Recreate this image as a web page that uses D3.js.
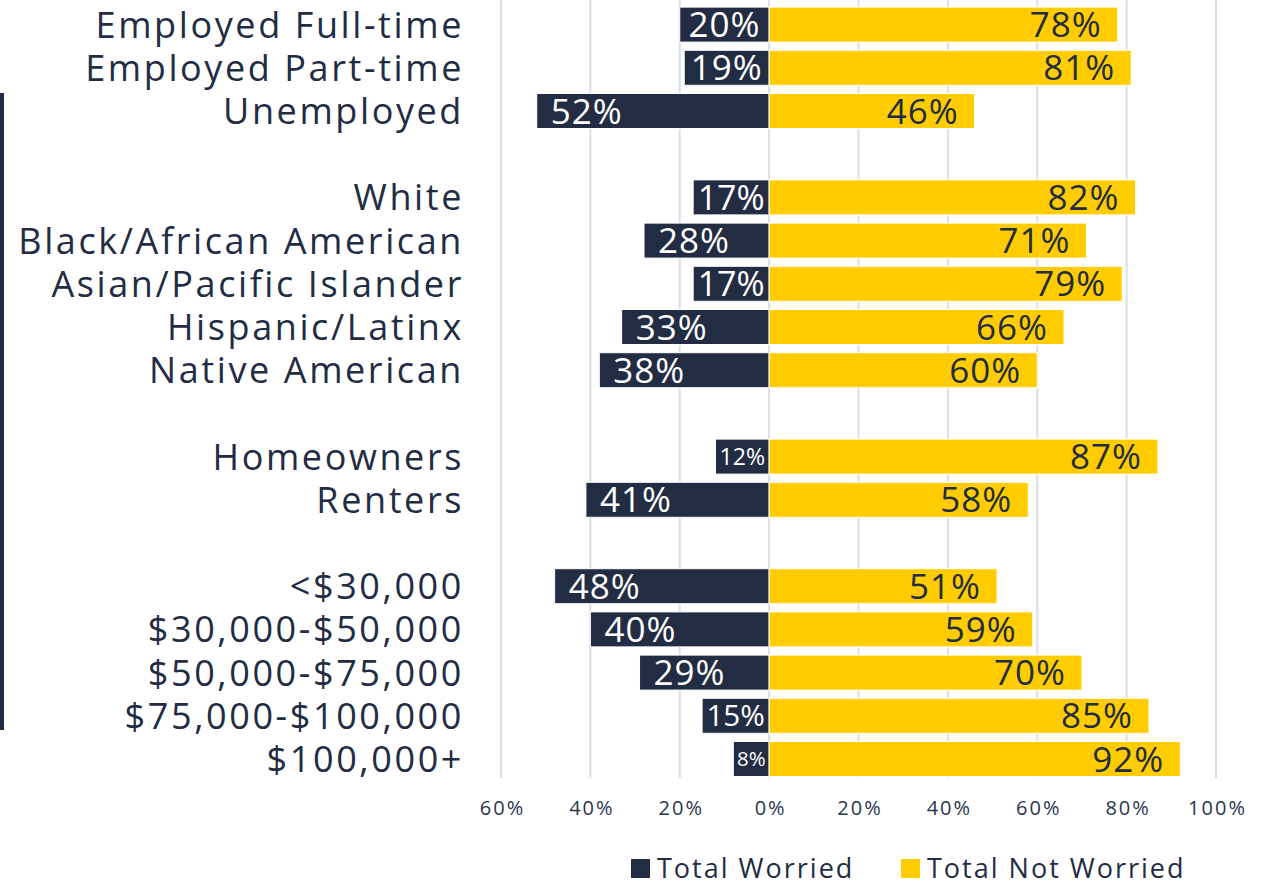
<!DOCTYPE html>
<html>
<head>
<meta charset="utf-8">
<script src="https://cdn.jsdelivr.net/npm/d3@7"></script>
<style>
  body { margin: 0; background: #fff; }
  svg { display: block; font-family: "Open Sans", "Noto Sans", sans-serif; }
</style>
</head>
<body>
<div id="canvas"></div>
<script>
// rows of the chart, split in groups (a blank row sits between groups)
const employment = ["Employed Full-time", "Employed Part-time", "Unemployed"];
const race = ["White", "Black/African American", "Asian/Pacific Islander", "Hispanic/Latinx", "Native American"];
const housing = ["Homeowners", "Renters"];
const income = ["<$30,000", "$30,000-$50,000", "$50,000-$75,000", "$75,000-$100,000", "$100,000+"];
const groups = [employment, race, housing, income];

const categories = [].concat(employment, race, housing, income);
const worried    = [20, 19, 52, 17, 28, 17, 33, 38, 12, 41, 48, 40, 29, 15, 8];
const notWorried = [78, 81, 46, 82, 71, 79, 66, 60, 87, 58, 51, 59, 70, 85, 92];

const tickValues = [-60, -40, -20, 0, 20, 40, 60, 80, 100];
const seriesNames = ["Total Worried", "Total Not Worried"];

const w = 1269;
const h = 884;
const dark = "#222c43";
const yellow = "#ffcc00";
const grid = "#d8deea";

// slots including the blank gaps
const slots = [];
groups.forEach(function(g, i){
  g.forEach(function(c){ slots.push(c) });
  if (i < groups.length - 1) slots.push("gap" + i);
});

const data = categories.map(function(c, i){
  return { name: c, worried: worried[i], notWorried: notWorried[i] };
});

const svg = d3.select("#canvas")
              .append("svg")
              .attr("width", w)
              .attr("height", h);

const x = d3.scaleLinear()
            .domain([-60, 100])
            .range([501, 1216]);

const y = d3.scaleBand()
            .domain(slots)
            .range([3, 780.6])
            .paddingInner(0.19)
            .paddingOuter(0.095);

// decorative bar on the far left
svg.append("rect")
   .attr("x", 0)
   .attr("y", 93)
   .attr("width", 4)
   .attr("height", 637)
   .attr("fill", dark);

// vertical gridlines
svg.append("g")
   .selectAll("line")
   .data(tickValues)
   .enter()
   .append("line")
   .attr("x1", function(d){ return x(d) })
   .attr("x2", function(d){ return x(d) })
   .attr("y1", 0)
   .attr("y2", 778)
   .attr("stroke", grid)
   .attr("stroke-width", 2);

// x axis labels
const xAxis = d3.axisBottom(x)
                .tickValues(tickValues)
                .tickSize(0)
                .tickPadding(0)
                .tickFormat(function(d){ return Math.abs(d) + "%" });

const axisG = svg.append("g")
                 .attr("transform", "translate(0,808)")
                 .call(xAxis);
axisG.select(".domain").remove();
axisG.selectAll("text")
     .attr("fill", "#2a3550")
     .attr("x", 1)
     .style("font-size", "20px")
     .style("letter-spacing", "2px")
     .style("font-family", "'Open Sans', sans-serif")
     .attr("dy", "0.35em");

// category labels
svg.append("g")
   .selectAll("text")
   .data(data)
   .enter()
   .append("text")
   .attr("x", 464)
   .attr("y", function(d){ return y(d.name) + y.bandwidth() / 2 })
   .attr("dy", "0.36em")
   .attr("text-anchor", "end")
   .attr("fill", dark)
   .style("font-size", "36px")
   .style("letter-spacing", "2.6px")
   .text(function(d){ return d.name });

// worried bars (left)
svg.append("g")
   .selectAll("rect")
   .data(data)
   .enter()
   .append("rect")
   .attr("x", function(d){ return x(-d.worried) })
   .attr("y", function(d){ return y(d.name) })
   .attr("width", function(d){ return x(0) - x(-d.worried) })
   .attr("height", y.bandwidth())
   .attr("fill", dark)
   .attr("stroke", "#fff")
   .attr("stroke-width", 1);

// not worried bars (right)
svg.append("g")
   .selectAll("rect")
   .data(data)
   .enter()
   .append("rect")
   .attr("x", x(0))
   .attr("y", function(d){ return y(d.name) })
   .attr("width", function(d){ return x(d.notWorried) - x(0) })
   .attr("height", y.bandwidth())
   .attr("fill", yellow)
   .attr("stroke", "#fff")
   .attr("stroke-width", 1);

// labels inside the worried bars, shrunk when they don't fit
svg.append("g")
   .selectAll("text")
   .data(data)
   .enter()
   .append("text")
   .attr("y", function(d){ return y(d.name) + y.bandwidth() / 2 })
   .attr("dy", "0.36em")
   .attr("fill", "#fff")
   .style("font-size", "35px")
   .style("letter-spacing", "1px")
   .text(function(d){ return d.worried + "%" })
   .each(function(d){
     const barW = x(0) - x(-d.worried);
     let tw = this.getComputedTextLength();
     if (tw > barW - 6) {
       const size = 35 * (barW - 6) / tw;
       d3.select(this).style("font-size", size + "px").style("letter-spacing", "0px");
       tw = this.getComputedTextLength();
     }
     const pad = Math.min(14, (barW - tw) / 2);
     d3.select(this).attr("x", x(-d.worried) + pad);
   });

// labels inside the not worried bars
svg.append("g")
   .selectAll("text")
   .data(data)
   .enter()
   .append("text")
   .attr("x", function(d){ return x(d.notWorried) - 16 })
   .attr("y", function(d){ return y(d.name) + y.bandwidth() / 2 })
   .attr("dy", "0.36em")
   .attr("text-anchor", "end")
   .attr("fill", dark)
   .style("font-size", "35px")
   .style("letter-spacing", "1px")
   .text(function(d){ return d.notWorried + "%" });

// legend
const legend = svg.append("g").attr("transform", "translate(631,859)");
const legendX = [0, 270];
const legendColors = [dark, yellow];
seriesNames.forEach(function(name, i){
  legend.append("rect")
        .attr("x", legendX[i])
        .attr("y", 0)
        .attr("width", 19)
        .attr("height", 19)
        .attr("fill", legendColors[i]);
  legend.append("text")
        .attr("x", legendX[i] + 26)
        .attr("y", 19)
        .attr("fill", dark)
        .style("font-size", "27px")
        .style("letter-spacing", "2px")
        .text(name);
});
</script>
</body>
</html>
